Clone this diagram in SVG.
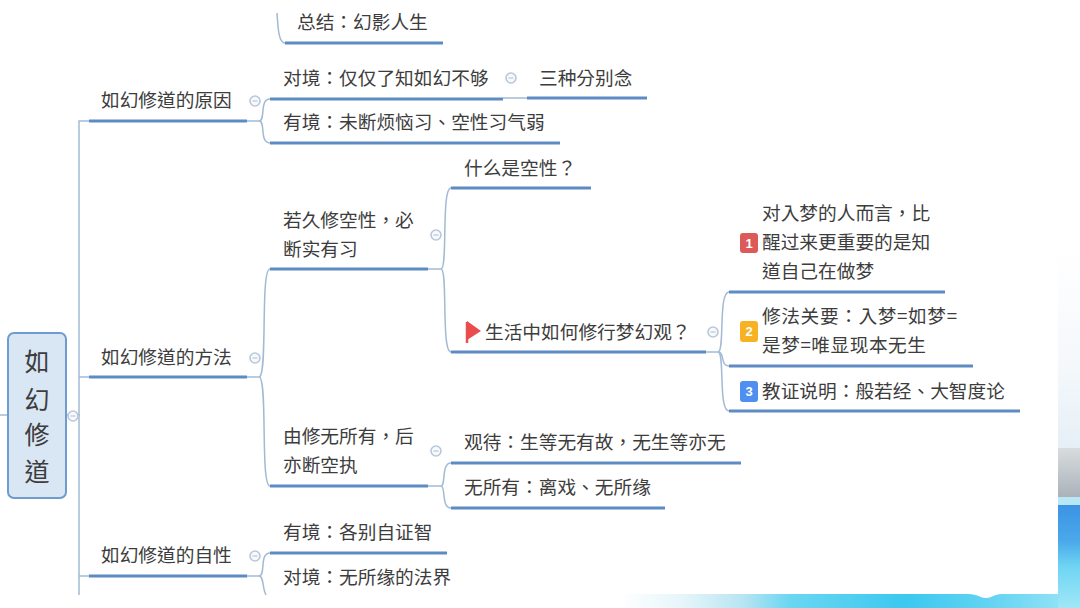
<svg xmlns="http://www.w3.org/2000/svg" width="1080" height="608" viewBox="0 0 1080 608">
<defs>
<style>
text{font-family:"Noto Sans CJK TC","Noto Sans CJK SC","Liberation Sans",sans-serif;font-size:18.7px;fill:#3d3d3d;font-weight:400}
.ul{stroke:#5f8bc4;stroke-width:3;fill:none;stroke-linecap:butt}
.c{stroke:#a3bad3;stroke-width:1.5;fill:none}
.col{fill:#f7f9fc;stroke:#b9c7da;stroke-width:1.6}
.dash{stroke:#b9c7da;stroke-width:1.2}
.num{font-family:"Liberation Sans",sans-serif;font-size:13px;font-weight:700;fill:#fff;text-anchor:middle}
</style>
<linearGradient id="strip" x1="0" y1="0" x2="1" y2="0">
<stop offset="0" stop-color="#ffffff"/><stop offset="0.14" stop-color="#e4f5fa"/><stop offset="0.27" stop-color="#b7e4f2"/><stop offset="0.37" stop-color="#6ad6f2"/><stop offset="0.62" stop-color="#3cc8f0"/><stop offset="0.8" stop-color="#62d3f2"/><stop offset="1" stop-color="#9ce6f7"/>
</linearGradient>
<linearGradient id="haze" x1="0" y1="0" x2="0" y2="1"><stop offset="0" stop-color="#ffffff"/><stop offset="0.6" stop-color="#f4f8fb"/><stop offset="1" stop-color="#e6eff6"/></linearGradient>
<linearGradient id="rock" x1="0" y1="0" x2="0" y2="1"><stop offset="0" stop-color="#d9dcde"/><stop offset="1" stop-color="#a9b2b9"/></linearGradient>
<linearGradient id="water" x1="0" y1="0" x2="0" y2="1"><stop offset="0" stop-color="#3c93e4"/><stop offset="0.35" stop-color="#4aa9ea"/><stop offset="0.6" stop-color="#6fd5f3"/><stop offset="1" stop-color="#a0e7f7"/></linearGradient>
</defs>
<rect width="1080" height="608" fill="#fff"/>
<g id="background">
<rect x="1058" y="250" width="22" height="198" fill="url(#haze)"/>
<rect x="620" y="594" width="460" height="14" fill="url(#strip)"/>
<rect x="1058" y="448" width="22" height="50" fill="url(#rock)"/>
<rect x="1058" y="497" width="22" height="8" fill="#b8e8f6"/>
<rect x="1058" y="505" width="22" height="103" fill="url(#water)"/>
<path d="M968 594C978 594 980 598 986 598C992 598 994 594 1002 594Z" fill="#fff"/>
</g>
<g id="connectors">
<path class="c" d="M0 415H8"/>
<path class="c" d="M66 415H80"/>
<path class="c" d="M90 121H79V595"/>
<path class="c" d="M79 377H90"/>
<path class="c" d="M79 576H90"/>
<path class="c" d="M247 121H259C266 121 259 99 270 99"/>
<path class="c" d="M259 121C266 121 259 143 270 143"/>
<path class="c" d="M247 377H259C268 377 260 269 270 269"/>
<path class="c" d="M259 377C268 377 260 486 270 486"/>
<path class="c" d="M247 576H259C266 576 259 553 270 553"/>
<path class="c" d="M259 576C264 576 262 588 266 595"/>
<path class="c" d="M277 13C278 30 279 43 285 43"/>
<path class="c" d="M428 269H441C448 269 441 188 451 188"/>
<path class="c" d="M441 269C448 269 441 352 451 352"/>
<path class="c" d="M428 486H441C446 486 441 463 451 463"/>
<path class="c" d="M441 486C446 486 441 508 451 508"/>
<path class="c" d="M706 352H718C725 352 718 292 729 292"/>
<path class="c" d="M718 352C725 352 720 366 729 366"/>
<path class="c" d="M718 352C725 352 718 411 729 411"/>
<path class="c" d="M503 98H527"/>
<path class="ul" d="M285 43H443"/>
<path class="ul" d="M89 121H247"/>
<path class="ul" d="M270 99H503"/>
<path class="ul" d="M527 98H647"/>
<path class="ul" d="M270 143H560"/>
<path class="ul" d="M270 269H428"/>
<path class="ul" d="M451 188H591"/>
<path class="ul" d="M451 352H706"/>
<path class="ul" d="M729 292H945"/>
<path class="ul" d="M729 366H973"/>
<path class="ul" d="M729 411H1020"/>
<path class="ul" d="M89 377H247"/>
<path class="ul" d="M270 486H428"/>
<path class="ul" d="M451 463H741"/>
<path class="ul" d="M451 508H665"/>
<path class="ul" d="M89 576H247"/>
<path class="ul" d="M270 553H447"/>
</g>
<g id="collapse-markers">
<g><circle class="col" cx="73" cy="416" r="5"/><path class="dash" d="M70.5 416H75.5"/></g>
<g><circle class="col" cx="255" cy="101" r="5"/><path class="dash" d="M252.5 101H257.5"/></g>
<g><circle class="col" cx="255" cy="358" r="5"/><path class="dash" d="M252.5 358H257.5"/></g>
<g><circle class="col" cx="255" cy="556" r="5"/><path class="dash" d="M252.5 556H257.5"/></g>
<g><circle class="col" cx="511" cy="78" r="5"/><path class="dash" d="M508.5 78H513.5"/></g>
<g><circle class="col" cx="436" cy="235" r="5"/><path class="dash" d="M433.5 235H438.5"/></g>
<g><circle class="col" cx="713" cy="332" r="5"/><path class="dash" d="M710.5 332H715.5"/></g>
<g><circle class="col" cx="436" cy="451" r="5"/><path class="dash" d="M433.5 451H438.5"/></g>
</g>
<g id="root"><rect x="8" y="333" width="58" height="165" rx="6" fill="#d9e6f4" stroke="#6f9bcf" stroke-width="2"/>
<text x="37" y="371" text-anchor="middle" style="font-size:25px">如</text>
<text x="37" y="409" text-anchor="middle" style="font-size:25px">幻</text>
<text x="37" y="444" text-anchor="middle" style="font-size:25px">修</text>
<text x="37" y="481" text-anchor="middle" style="font-size:25px">道</text></g>
<g id="n-summary"><text x="297" y="29">总结：幻影人生</text></g>
<g id="n-reason"><text x="101" y="107">如幻修道的原因</text></g>
<g id="n-duijing"><text x="283" y="85">对境：仅仅了知如幻不够</text></g>
<g id="n-three"><text x="539" y="85">三种分别念</text></g>
<g id="n-youjing"><text x="283" y="129">有境：未断烦恼习、空性习气弱</text></g>
<g id="n-method"><text x="101" y="364">如幻修道的方法</text></g>
<g id="n-ruojiu"><text x="283" y="227">若久修空性，必</text><text x="283" y="256">断实有习</text></g>
<g id="n-what"><text x="464" y="175">什么是空性？</text></g>
<g id="n-life"><path d="M467 322V343" stroke="#e8504f" stroke-width="2.5"/><path d="M467 321L481 331L467 340Z" fill="#ea4c4c"/><text x="485" y="339">生活中如何修行梦幻观？</text></g>
<g id="n-1"><rect x="740" y="233" width="18" height="20" rx="3" fill="#dc5a58"/><text class="num" x="749" y="248">1</text>
<text x="762" y="220">对入梦的人而言，比</text><text x="762" y="249">醒过来更重要的是知</text><text x="762" y="278">道自己在做梦</text></g>
<g id="n-2"><rect x="740" y="321" width="18" height="21" rx="3" fill="#f6b223"/><text class="num" x="749" y="336">2</text>
<text x="762" y="323" textLength="195" lengthAdjust="spacing">修法关要：入梦=如梦=</text><text x="762" y="352" textLength="164" lengthAdjust="spacing">是梦=唯显现本无生</text></g>
<g id="n-3"><rect x="740" y="381" width="18" height="21" rx="3" fill="#4f8ff0"/><text class="num" x="749" y="396">3</text>
<text x="762" y="398">教证说明：般若经、大智度论</text></g>
<g id="n-you"><text x="283" y="443">由修无所有，后</text><text x="283" y="472">亦断空执</text></g>
<g id="n-guan"><text x="464" y="449">观待：生等无有故，无生等亦无</text></g>
<g id="n-wu"><text x="464" y="494">无所有：离戏、无所缘</text></g>
<g id="n-nature"><text x="101" y="562">如幻修道的自性</text></g>
<g id="n-ge"><text x="283" y="539">有境：各别自证智</text></g>
<g id="n-fa"><text x="283" y="584">对境：无所缘的法界</text></g>
</svg>
